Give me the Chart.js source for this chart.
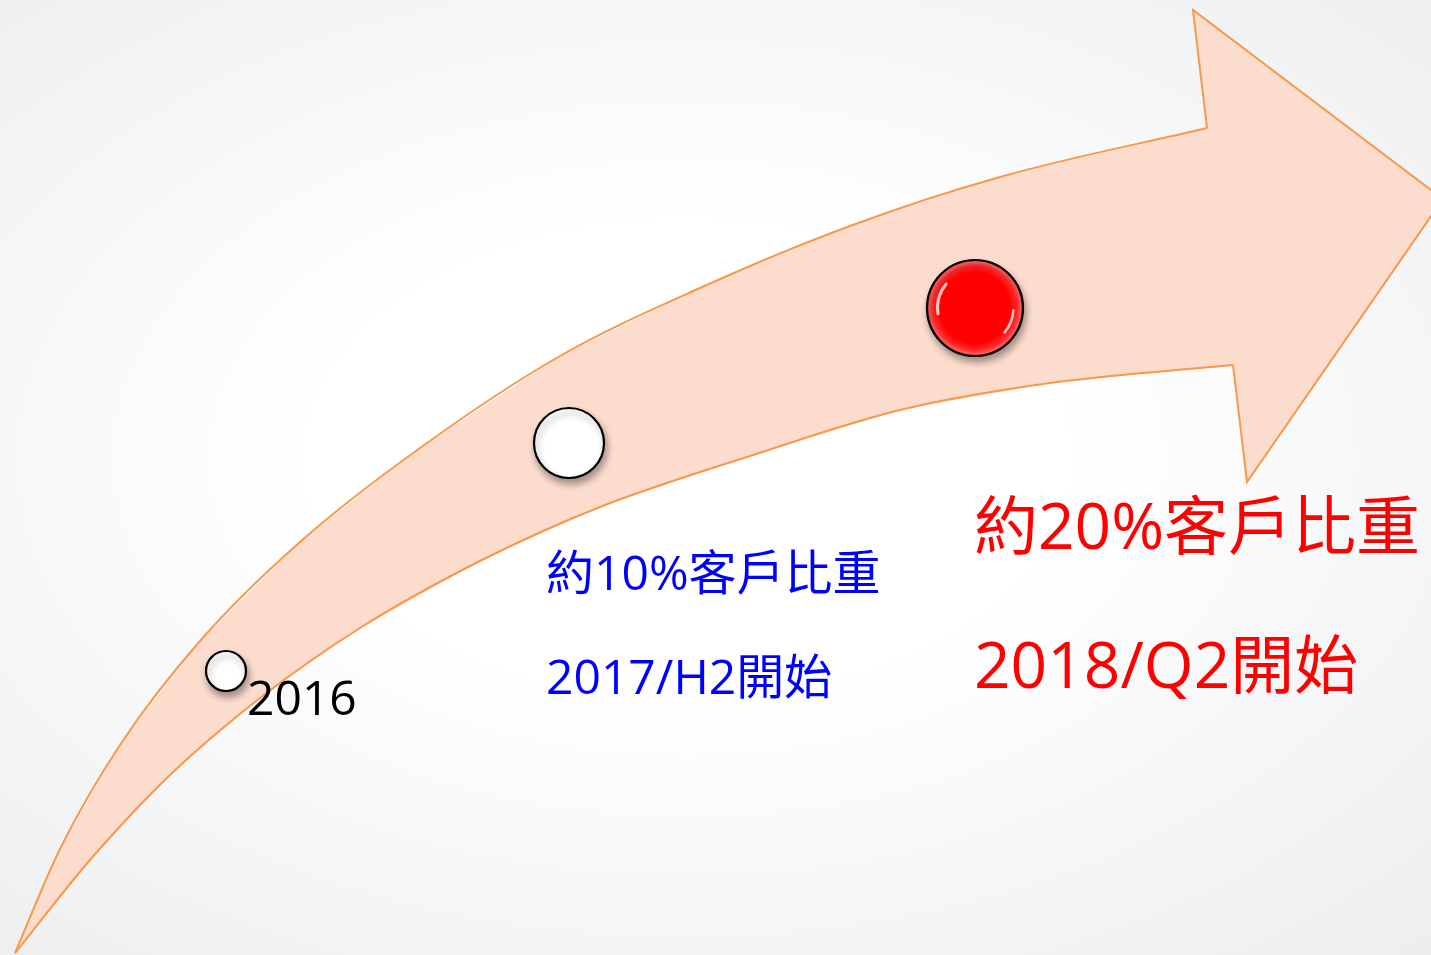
<!DOCTYPE html>
<html>
<head>
<meta charset="utf-8">
<script src="https://cdn.jsdelivr.net/npm/chart.js@4/dist/chart.umd.min.js"></script>
<style>
  html, body { margin: 0; padding: 0; }
  body {
    width: 1431px; height: 955px; overflow: hidden;
    background: radial-gradient(ellipse 75% 70% at 48% 48%, #ffffff 35%, #f6f7f8 65%, #eceef0 100%);
  }
  #wrap { position: relative; width: 1431px; height: 955px; }
</style>
</head>
<body>
<div id="wrap"><canvas id="graph"></canvas></div>
<script>
// arrow outline (x to the right, y downwards)
const upperEdgeX = [15, 60, 120, 200, 300, 420, 560, 700, 850, 1000, 1207];
const upperEdgeY = [953, 849, 745, 641, 542, 448, 356, 288, 226, 177, 128];
const lowerEdgeX = [15, 90, 170, 260, 360, 480, 600, 750, 900, 1050, 1233];
const lowerEdgeY = [953, 860, 775, 698, 628, 561, 507, 456, 410, 383, 365];
const headX = [1207, 1193, 1443, 1247, 1233];
const headY = [128, 10, 199, 482, 365];

// milestones along the arrow
const milestoneX = [226, 569, 975];
const milestoneY = [671, 443, 308];
const milestoneSize = [20, 35, 48];
const milestoneNotes = [
  ["2016"],
  ["約10%客戶比重", "2017/H2開始"],
  ["約20%客戶比重", "2018/Q2開始"]
];

function toPoints(xs, ys) {
  return xs.map((x, i) => ({ x: x, y: ys[i] }));
}

const upperPts = toPoints(upperEdgeX, upperEdgeY);
const lowerPts = toPoints(lowerEdgeX, lowerEdgeY);
const headPts = toPoints(headX, headY);
const outline = upperPts.concat(headPts.slice(1), lowerPts.slice().reverse());

const arrowFill = '#fcdccd';
const arrowLine = '#f7984a';

function milestoneColor(ctx) {
  if (ctx.type !== 'data') return '#ffffff';
  if (ctx.dataIndex < 2) return '#ffffff';
  const c = ctx.chart.ctx;
  const sx = ctx.chart.scales.x, sy = ctx.chart.scales.y;
  if (!sx || !sy) return '#ff0000';
  const px = sx.getPixelForValue(milestoneX[ctx.dataIndex]);
  const py = sy.getPixelForValue(milestoneY[ctx.dataIndex]);
  if (!isFinite(px) || !isFinite(py)) return '#ff0000';
  const r = milestoneSize[ctx.dataIndex];
  const g = c.createRadialGradient(px, py, 0, px, py, r);
  g.addColorStop(0, '#ff0000');
  g.addColorStop(0.74, '#ff0000');
  g.addColorStop(0.88, '#ff2a2a');
  g.addColorStop(0.96, '#ff6060');
  g.addColorStop(1, '#e80000');
  return g;
}

const noteStyle = {
  x: [247, 546, 974],
  y: [715, 590, 549],
  gap: [0, 104, 139],
  size: [48, 48, 64],
  color: ['#000000', '#0000ff', '#ff0000']
};

const shadowPlugin = {
  id: 'shadow',
  beforeDatasetDraw(chart, args) {
    if (chart.data.datasets[args.index].label !== 'milestones') return;
    const c = chart.ctx;
    c.save();
    c.shadowColor = 'rgba(0,0,0,0.35)';
    c.shadowBlur = 7;
    c.shadowOffsetX = 2;
    c.shadowOffsetY = 5;
  },
  afterDatasetDraw(chart, args) {
    if (chart.data.datasets[args.index].label !== 'milestones') return;
    const c = chart.ctx;
    c.restore();
    // glossy highlights on the red ball
    const pt = args.meta.data[2];
    const r = milestoneSize[2];
    c.save();
    c.strokeStyle = 'rgba(255,255,255,0.75)';
    c.lineCap = 'round';
    c.lineWidth = 3;
    c.beginPath();
    c.arc(pt.x, pt.y, r * 0.78, Math.PI * 0.95, Math.PI * 1.22);
    c.stroke();
    c.lineWidth = 2.5;
    c.beginPath();
    c.arc(pt.x, pt.y, r * 0.8, Math.PI * 0.02, Math.PI * 0.22);
    c.stroke();
    c.restore();
  }
};

const notesPlugin = {
  id: 'notes',
  afterDatasetsDraw(chart) {
    const c = chart.ctx;
    c.save();
    c.textBaseline = 'alphabetic';
    c.textAlign = 'left';
    milestoneNotes.forEach((lines, i) => {
      c.fillStyle = noteStyle.color[i];
      c.font = noteStyle.size[i] + 'px "Open Sans", "Noto Sans CJK TC", sans-serif';
      lines.forEach((t, j) => {
        c.fillText(t, noteStyle.x[i], noteStyle.y[i] + j * noteStyle.gap[i]);
      });
    });
    c.restore();
  }
};

window.onload = () => {
  const ctx = document.getElementById('graph').getContext('2d');
  new Chart(ctx, {
    type: 'scatter',
    data: {
      datasets: [
        {
          label: 'milestones',
          data: toPoints(milestoneX, milestoneY),
          pointRadius: milestoneSize,
          pointBackgroundColor: milestoneColor,
          pointBorderColor: '#000000',
          pointBorderWidth: 2.2,
          order: 0
        },
        {
          label: 'upper',
          data: upperPts,
          showLine: true,
          cubicInterpolationMode: 'monotone',
          borderColor: arrowLine,
          borderWidth: 2,
          pointRadius: 0,
          fill: false,
          order: 1
        },
        {
          label: 'lower',
          data: lowerPts,
          showLine: true,
          cubicInterpolationMode: 'monotone',
          borderColor: arrowLine,
          borderWidth: 2,
          pointRadius: 0,
          fill: false,
          order: 1
        },
        {
          label: 'head',
          data: headPts,
          showLine: true,
          tension: 0,
          borderColor: arrowLine,
          borderWidth: 2,
          pointRadius: 0,
          fill: false,
          order: 1
        },
        {
          label: 'body',
          data: outline,
          showLine: true,
          tension: 0,
          borderWidth: 0,
          borderColor: 'rgba(0,0,0,0)',
          backgroundColor: arrowFill,
          pointRadius: 0,
          fill: 'shape',
          order: 2
        }
      ]
    },
    options: {
      responsive: true,
      maintainAspectRatio: false,
      animation: false,
      events: [],
      layout: { padding: 0, autoPadding: false },
      plugins: {
        legend: { display: false },
        tooltip: { enabled: false }
      },
      scales: {
        x: { type: 'linear', min: 0, max: 1431, display: false },
        y: { type: 'linear', min: 0, max: 955, reverse: true, display: false }
      }
    },
    plugins: [shadowPlugin, notesPlugin]
  });
};
</script>
</body>
</html>
